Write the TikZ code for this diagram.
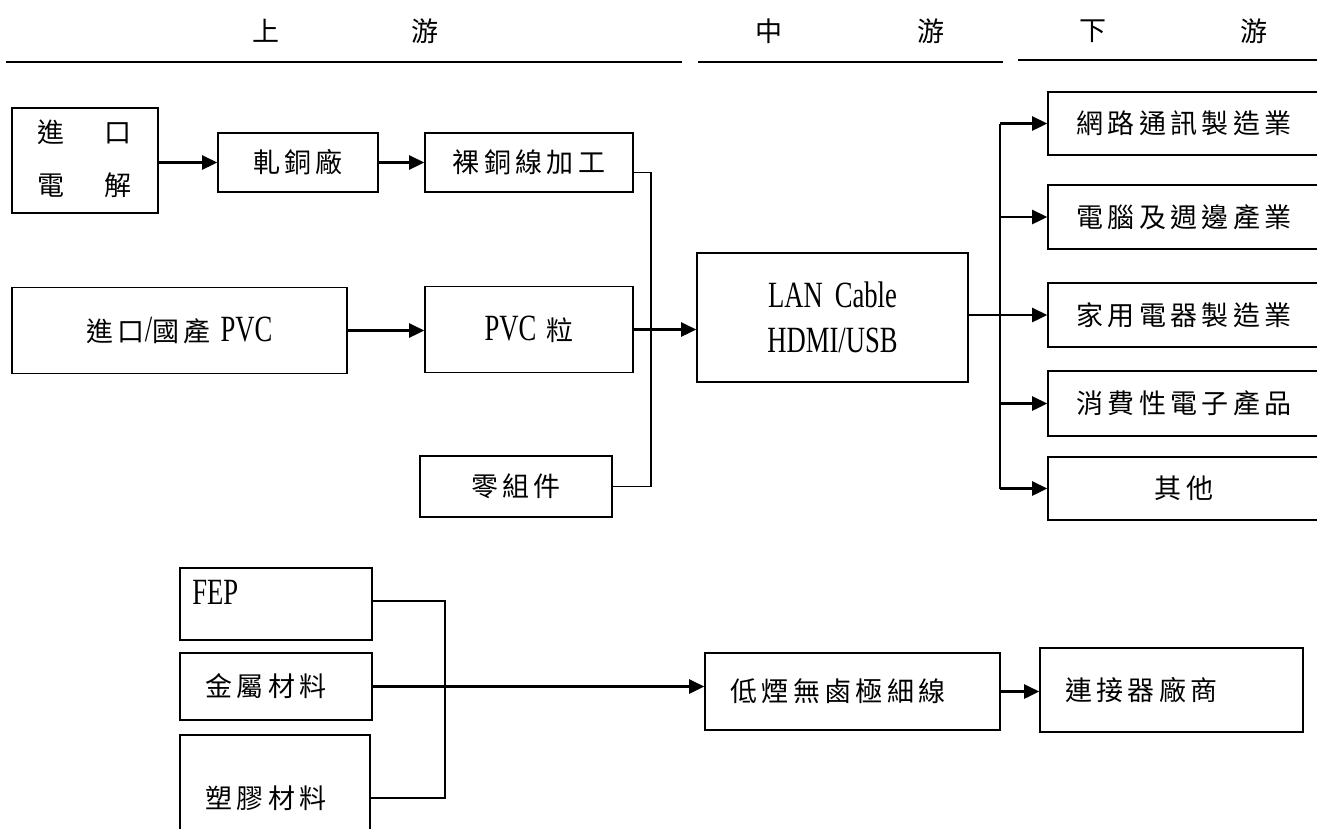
\documentclass[tikz,border=0pt]{standalone}
\usepackage{fontspec}
\setmainfont[FakeStretch=0.72]{Liberation Serif}
\newfontfamily\cjk[LetterSpace=16]{Noto Sans CJK TC}
\newfontfamily\cjkh{Noto Sans CJK TC}
\usetikzlibrary{arrows.meta}
\begin{document}
\begin{tikzpicture}[x=1pt,y=-1pt,
  box/.style={draw, line width=1.6pt, inner sep=0pt, font=\fontsize{37}{41}\selectfont},
  hd/.style={font=\cjkh\fontsize{27}{30}\selectfont, inner sep=0pt},
  hline/.style={line width=2.4pt},
  conn/.style={line width=1.8pt},
  arr/.style={line width=2.6pt, -{Triangle[length=15pt,width=14pt]}}]
\useasboundingbox (0,0) rectangle (1317,828);
\newcommand{\cz}[1]{{\cjk\fontsize{27}{30}\selectfont #1}}
\newcommand{\padr}[1]{\hspace*{#1}\null}
% headers
\node[hd] (h1) at (266,31) {上};
\node[hd] (h2) at (425,31) {游};
\node[hd] (h3) at (769,31) {中};
\node[hd] (h4) at (931,31) {游};
\node[hd] (h5) at (1093,31) {下};
\node[hd] (h6) at (1254,31) {游};
\draw[hline] (6,62) -- (682,62);
\draw[hline] (698,62) -- (1003,62);
\draw[hline] (1018,60) -- (1317,60);
% upper boxes
\node[box, minimum width=146, minimum height=105] (imp) at (85,160.5)
  {\begin{tabular}{@{}c@{\hspace{40pt}}c@{}}\cz{進}&\cz{口}\\[12pt]\cz{電}&\cz{解}\end{tabular}};
\node[box, minimum width=160, minimum height=59] (roll) at (298,162.5) {\cz{軋銅廠}};
\node[box, minimum width=208, minimum height=59] (bare) at (529,162.5) {\cz{裸銅線加工}};
\node[box, minimum width=335, minimum height=86] (pvcin) at (179.5,330.5) {\cz{進口}/\cz{國產}\hspace{10pt}PVC};
\node[box, minimum width=208, minimum height=86] (pvc) at (529,329.5) {PVC\hspace{10pt}\cz{粒}};
\node[box, minimum width=192, minimum height=61] (parts) at (516,486.5) {\cz{零組件}};
\node[box, minimum width=271, minimum height=129, align=center] (lan) at (832.5,317.5)
  {LAN\hspace{12pt}Cable\\[4pt]HDMI/USB};
% right boxes
\node[box, minimum width=272, minimum height=63] (r1) at (1184,123.5) {\cz{網路通訊製造業}};
\node[box, minimum width=272, minimum height=64] (r2) at (1184,217) {\cz{電腦及週邊產業}};
\node[box, minimum width=272, minimum height=64] (r3) at (1184,315) {\cz{家用電器製造業}};
\node[box, minimum width=272, minimum height=65] (r4) at (1184,403.5) {\cz{消費性電子產品}};
\node[box, minimum width=272, minimum height=63] (r5) at (1184,488.5) {\cz{其他}};
% lower boxes
\node[box, minimum width=192, minimum height=72,
  label={[anchor=north west,inner sep=0pt,xshift=13pt,yshift=-13pt,font=\fontsize{37}{41}\selectfont]north west:FEP}] (fep) at (276,604) {};
\node[box, minimum width=192, minimum height=67] (metal) at (276,686.5) {\cz{金屬材料}\padr{20pt}};
\node[box, minimum width=190, minimum height=126] (plastic) at (275,798) {\cz{塑膠材料}\padr{18pt}};
\node[box, minimum width=295, minimum height=77] (low) at (852.5,691.5) {\cz{低煙無鹵極細線}\padr{29pt}};
\node[box, minimum width=263, minimum height=84] (conn) at (1171.5,690) {\cz{連接器廠商}\padr{60pt}};
% connectors upper
\draw[arr] (imp.east |- roll.west) -- (roll.west);
\draw[arr] (roll.east) -- (bare.west);
\coordinate (bx1) at (651,0);
\coordinate (bareout) at ([yshift=-10pt]bare.east);
\draw[conn] (bareout) -- (bareout -| bx1) -- (parts.east -| bx1) -- (parts.east);
\draw[arr] (pvcin.east) -- (pvcin.east -| pvc.west);
\draw[arr] (pvc.east) -- (pvc.east -| lan.west);
\coordinate (bx2) at (1000,0);
\draw[conn] (bx2 |- r1.west) -- (bx2 |- r5.west);
\foreach \n in {r1,r2,r4,r5} \draw[arr] (bx2 |- \n.west) -- (\n.west);
\draw[arr] (lan.east |- r3.west) -- (r3.west);
% connectors lower
\coordinate (bx3) at (445,0);
\coordinate (fepout) at ([yshift=3pt]fep.east);
\draw[conn] (fepout) -- (fepout -| bx3) -- (plastic.east -| bx3) -- (plastic.east);
\draw[arr] (metal.east) -- (metal.east -| low.west);
\draw[arr] (low.east) -- (low.east -| conn.west);
\end{tikzpicture}
\end{document}
